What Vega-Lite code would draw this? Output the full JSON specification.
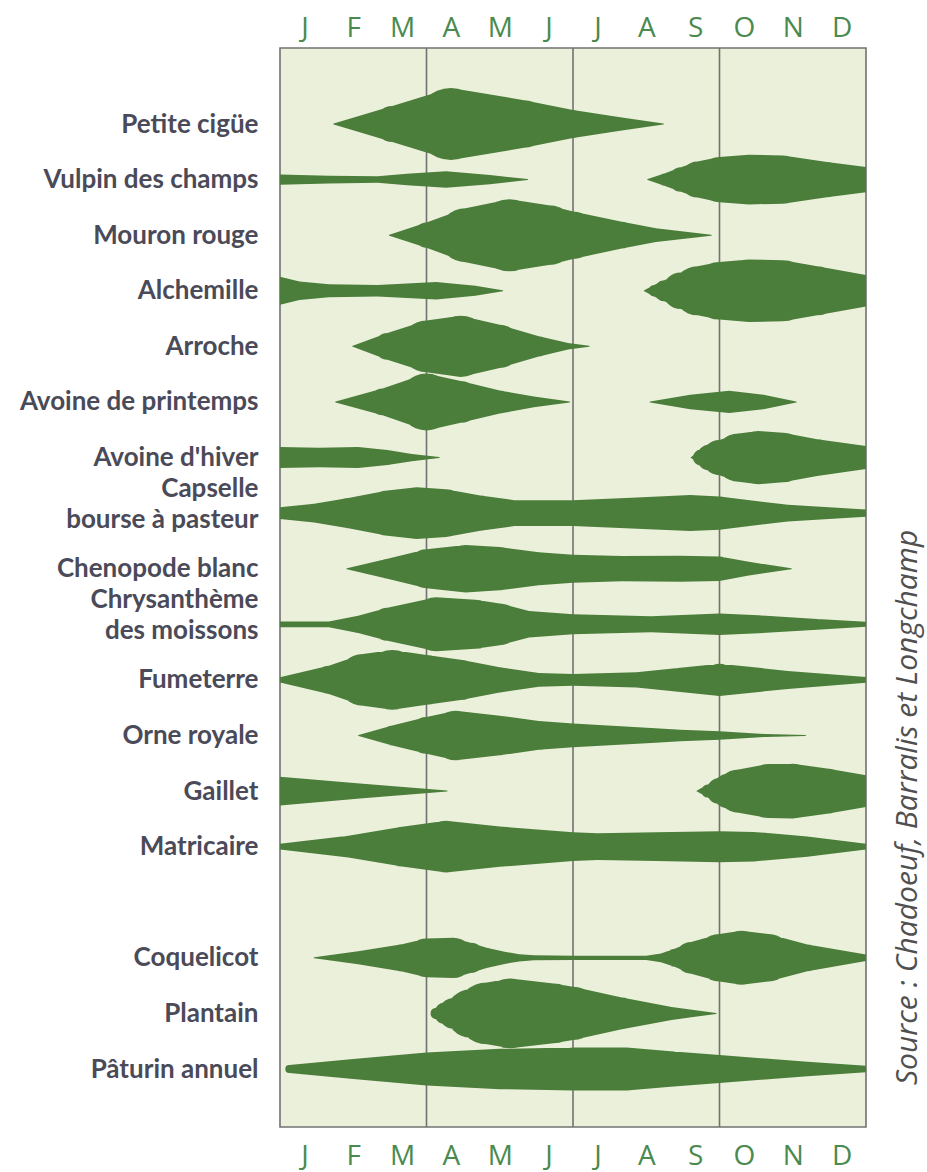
{
  "$schema": "https://vega.github.io/schema/vega-lite/v6.json",
  "width": 586,
  "height": 1079,
  "autosize": {"type": "none"},
  "padding": {"left": 280, "top": 48, "right": 61, "bottom": 45},
  "background": "white",
  "config": {
    "view": {"fill": "#ebf0da", "stroke": "#727272", "strokeWidth": 1.6}
  },
  "title": {
    "text": "Source : Chadoeuf, Barralis et Longchamp",
    "orient": "right",
    "anchor": "end",
    "angle": -90,
    "align": "left",
    "baseline": "top",
    "dx": 42,
    "offset": -3,
    "font": "Open Sans",
    "fontStyle": "italic",
    "fontWeight": "normal",
    "fontSize": 30,
    "color": "#505050",
    "frame": "group"
  },
  "datasets": {
    "grille": [{"m": 3}, {"m": 6}, {"m": 9}],
    "especes": [
      {"espece": "Petite cigüe", "partie": 1, "mois": 1.1, "densite": 0},
      {"espece": "Petite cigüe", "partie": 1, "mois": 2.3, "densite": 5.0},
      {"espece": "Petite cigüe", "partie": 1, "mois": 3.5, "densite": 10},
      {"espece": "Petite cigüe", "partie": 1, "mois": 5, "densite": 6.6},
      {"espece": "Petite cigüe", "partie": 1, "mois": 6, "densite": 3.9},
      {"espece": "Petite cigüe", "partie": 1, "mois": 7, "densite": 1.8},
      {"espece": "Petite cigüe", "partie": 1, "mois": 7.85, "densite": 0},

      {"espece": "Vulpin des champs", "partie": 1, "mois": 0, "densite": 1.4},
      {"espece": "Vulpin des champs", "partie": 1, "mois": 1, "densite": 1.1},
      {"espece": "Vulpin des champs", "partie": 1, "mois": 2, "densite": 0.9},
      {"espece": "Vulpin des champs", "partie": 1, "mois": 2.6, "densite": 1.6},
      {"espece": "Vulpin des champs", "partie": 1, "mois": 3.4, "densite": 2.3},
      {"espece": "Vulpin des champs", "partie": 1, "mois": 4.3, "densite": 1.3},
      {"espece": "Vulpin des champs", "partie": 1, "mois": 5.07, "densite": 0},
      {"espece": "Vulpin des champs", "partie": 2, "mois": 7.53, "densite": 0},
      {"espece": "Vulpin des champs", "partie": 2, "mois": 7.87, "densite": 1.7},
      {"espece": "Vulpin des champs", "partie": 2, "mois": 8.21, "densite": 3.4},
      {"espece": "Vulpin des champs", "partie": 2, "mois": 8.55, "densite": 5.0},
      {"espece": "Vulpin des champs", "partie": 2, "mois": 9.0, "densite": 6.3},
      {"espece": "Vulpin des champs", "partie": 2, "mois": 9.6, "densite": 6.9},
      {"espece": "Vulpin des champs", "partie": 2, "mois": 10.3, "densite": 6.7},
      {"espece": "Vulpin des champs", "partie": 2, "mois": 11.2, "densite": 4.9},
      {"espece": "Vulpin des champs", "partie": 2, "mois": 12, "densite": 3.5},

      {"espece": "Mouron rouge", "partie": 1, "mois": 2.24, "densite": 0},
      {"espece": "Mouron rouge", "partie": 1, "mois": 3, "densite": 3.5},
      {"espece": "Mouron rouge", "partie": 1, "mois": 3.8, "densite": 7.5},
      {"espece": "Mouron rouge", "partie": 1, "mois": 4.7, "densite": 10},
      {"espece": "Mouron rouge", "partie": 1, "mois": 5.5, "densite": 8.3},
      {"espece": "Mouron rouge", "partie": 1, "mois": 6, "densite": 6.6},
      {"espece": "Mouron rouge", "partie": 1, "mois": 7, "densite": 3.7},
      {"espece": "Mouron rouge", "partie": 1, "mois": 7.7, "densite": 1.9},
      {"espece": "Mouron rouge", "partie": 1, "mois": 8.83, "densite": 0},

      {"espece": "Alchemille", "partie": 1, "mois": 0, "densite": 3.9},
      {"espece": "Alchemille", "partie": 1, "mois": 0.4, "densite": 2.6},
      {"espece": "Alchemille", "partie": 1, "mois": 1, "densite": 1.8},
      {"espece": "Alchemille", "partie": 1, "mois": 2, "densite": 1.6},
      {"espece": "Alchemille", "partie": 1, "mois": 3.2, "densite": 2.4},
      {"espece": "Alchemille", "partie": 1, "mois": 4, "densite": 1.4},
      {"espece": "Alchemille", "partie": 1, "mois": 4.56, "densite": 0},
      {"espece": "Alchemille", "partie": 2, "mois": 7.46, "densite": 0},
      {"espece": "Alchemille", "partie": 2, "mois": 7.66, "densite": 1.6},
      {"espece": "Alchemille", "partie": 2, "mois": 7.87, "densite": 2.9},
      {"espece": "Alchemille", "partie": 2, "mois": 8.21, "densite": 5.1},
      {"espece": "Alchemille", "partie": 2, "mois": 8.55, "densite": 6.8},
      {"espece": "Alchemille", "partie": 2, "mois": 9.0, "densite": 8.0},
      {"espece": "Alchemille", "partie": 2, "mois": 9.6, "densite": 8.7},
      {"espece": "Alchemille", "partie": 2, "mois": 10.3, "densite": 8.5},
      {"espece": "Alchemille", "partie": 2, "mois": 11, "densite": 6.8},
      {"espece": "Alchemille", "partie": 2, "mois": 12, "densite": 4.4},

      {"espece": "Arroche", "partie": 1, "mois": 1.49, "densite": 0},
      {"espece": "Arroche", "partie": 1, "mois": 2.2, "densite": 3.7},
      {"espece": "Arroche", "partie": 1, "mois": 3, "densite": 7.2},
      {"espece": "Arroche", "partie": 1, "mois": 3.7, "densite": 8.5},
      {"espece": "Arroche", "partie": 1, "mois": 4.5, "densite": 6.0},
      {"espece": "Arroche", "partie": 1, "mois": 5.3, "densite": 2.8},
      {"espece": "Arroche", "partie": 1, "mois": 5.9, "densite": 0.9},
      {"espece": "Arroche", "partie": 1, "mois": 6.33, "densite": 0},

      {"espece": "Avoine de printemps", "partie": 1, "mois": 1.14, "densite": 0},
      {"espece": "Avoine de printemps", "partie": 1, "mois": 2.1, "densite": 3.7},
      {"espece": "Avoine de printemps", "partie": 1, "mois": 3, "densite": 7.9},
      {"espece": "Avoine de printemps", "partie": 1, "mois": 3.7, "densite": 5.8},
      {"espece": "Avoine de printemps", "partie": 1, "mois": 4.5, "densite": 3.2},
      {"espece": "Avoine de printemps", "partie": 1, "mois": 5.2, "densite": 1.5},
      {"espece": "Avoine de printemps", "partie": 1, "mois": 5.93, "densite": 0},
      {"espece": "Avoine de printemps", "partie": 2, "mois": 7.58, "densite": 0},
      {"espece": "Avoine de printemps", "partie": 2, "mois": 8.4, "densite": 2.0},
      {"espece": "Avoine de printemps", "partie": 2, "mois": 9.2, "densite": 3.1},
      {"espece": "Avoine de printemps", "partie": 2, "mois": 9.9, "densite": 2.0},
      {"espece": "Avoine de printemps", "partie": 2, "mois": 10.57, "densite": 0},

      {"espece": "Avoine d'hiver", "partie": 1, "mois": 0, "densite": 2.9},
      {"espece": "Avoine d'hiver", "partie": 1, "mois": 0.8, "densite": 2.7},
      {"espece": "Avoine d'hiver", "partie": 1, "mois": 1.6, "densite": 2.9},
      {"espece": "Avoine d'hiver", "partie": 1, "mois": 2.2, "densite": 2.1},
      {"espece": "Avoine d'hiver", "partie": 1, "mois": 2.7, "densite": 1.0},
      {"espece": "Avoine d'hiver", "partie": 1, "mois": 3.26, "densite": 0},
      {"espece": "Avoine d'hiver", "partie": 2, "mois": 8.42, "densite": 0},
      {"espece": "Avoine d'hiver", "partie": 2, "mois": 8.62, "densite": 2.2},
      {"espece": "Avoine d'hiver", "partie": 2, "mois": 8.8, "densite": 3.6},
      {"espece": "Avoine d'hiver", "partie": 2, "mois": 9.0, "densite": 4.9},
      {"espece": "Avoine d'hiver", "partie": 2, "mois": 9.39, "densite": 6.7},
      {"espece": "Avoine d'hiver", "partie": 2, "mois": 9.8, "densite": 7.4},
      {"espece": "Avoine d'hiver", "partie": 2, "mois": 10.3, "densite": 6.9},
      {"espece": "Avoine d'hiver", "partie": 2, "mois": 11, "densite": 5.1},
      {"espece": "Avoine d'hiver", "partie": 2, "mois": 12, "densite": 3.2},

      {"espece": "Capselle bourse à pasteur", "partie": 1, "mois": 0, "densite": 1.6},
      {"espece": "Capselle bourse à pasteur", "partie": 1, "mois": 0.7, "densite": 2.6},
      {"espece": "Capselle bourse à pasteur", "partie": 1, "mois": 1.4, "densite": 4.2},
      {"espece": "Capselle bourse à pasteur", "partie": 1, "mois": 2.2, "densite": 6.3},
      {"espece": "Capselle bourse à pasteur", "partie": 1, "mois": 2.8, "densite": 7.2},
      {"espece": "Capselle bourse à pasteur", "partie": 1, "mois": 3.4, "densite": 6.6},
      {"espece": "Capselle bourse à pasteur", "partie": 1, "mois": 4.1, "densite": 4.9},
      {"espece": "Capselle bourse à pasteur", "partie": 1, "mois": 4.8, "densite": 3.6},
      {"espece": "Capselle bourse à pasteur", "partie": 1, "mois": 6, "densite": 3.6},
      {"espece": "Capselle bourse à pasteur", "partie": 1, "mois": 7.2, "densite": 4.3},
      {"espece": "Capselle bourse à pasteur", "partie": 1, "mois": 8.4, "densite": 5.0},
      {"espece": "Capselle bourse à pasteur", "partie": 1, "mois": 9, "densite": 4.6},
      {"espece": "Capselle bourse à pasteur", "partie": 1, "mois": 10.4, "densite": 2.3},
      {"espece": "Capselle bourse à pasteur", "partie": 1, "mois": 12, "densite": 1.0},

      {"espece": "Chenopode blanc", "partie": 1, "mois": 1.37, "densite": 0},
      {"espece": "Chenopode blanc", "partie": 1, "mois": 2.2, "densite": 2.8},
      {"espece": "Chenopode blanc", "partie": 1, "mois": 3, "densite": 5.4},
      {"espece": "Chenopode blanc", "partie": 1, "mois": 3.8, "densite": 6.6},
      {"espece": "Chenopode blanc", "partie": 1, "mois": 4.5, "densite": 6.0},
      {"espece": "Chenopode blanc", "partie": 1, "mois": 5.3, "densite": 4.6},
      {"espece": "Chenopode blanc", "partie": 1, "mois": 6, "densite": 3.9},
      {"espece": "Chenopode blanc", "partie": 1, "mois": 7, "densite": 3.5},
      {"espece": "Chenopode blanc", "partie": 1, "mois": 8.2, "densite": 3.6},
      {"espece": "Chenopode blanc", "partie": 1, "mois": 9, "densite": 3.4},
      {"espece": "Chenopode blanc", "partie": 1, "mois": 9.6, "densite": 1.9},
      {"espece": "Chenopode blanc", "partie": 1, "mois": 10.47, "densite": 0},

      {"espece": "Chrysanthème des moissons", "partie": 1, "mois": 0, "densite": 0.8},
      {"espece": "Chrysanthème des moissons", "partie": 1, "mois": 1, "densite": 0.8},
      {"espece": "Chrysanthème des moissons", "partie": 1, "mois": 1.6, "densite": 2.4},
      {"espece": "Chrysanthème des moissons", "partie": 1, "mois": 2.2, "densite": 4.6},
      {"espece": "Chrysanthème des moissons", "partie": 1, "mois": 3.2, "densite": 7.5},
      {"espece": "Chrysanthème des moissons", "partie": 1, "mois": 4.0, "densite": 6.8},
      {"espece": "Chrysanthème des moissons", "partie": 1, "mois": 4.5, "densite": 5.8},
      {"espece": "Chrysanthème des moissons", "partie": 1, "mois": 5.1, "densite": 3.7},
      {"espece": "Chrysanthème des moissons", "partie": 1, "mois": 6, "densite": 2.8},
      {"espece": "Chrysanthème des moissons", "partie": 1, "mois": 7.6, "densite": 2.2},
      {"espece": "Chrysanthème des moissons", "partie": 1, "mois": 9, "densite": 3.0},
      {"espece": "Chrysanthème des moissons", "partie": 1, "mois": 9.8, "densite": 2.5},
      {"espece": "Chrysanthème des moissons", "partie": 1, "mois": 11, "densite": 1.5},
      {"espece": "Chrysanthème des moissons", "partie": 1, "mois": 12, "densite": 0.7},

      {"espece": "Fumeterre", "partie": 1, "mois": 0, "densite": 0.7},
      {"espece": "Fumeterre", "partie": 1, "mois": 1, "densite": 3.9},
      {"espece": "Fumeterre", "partie": 1, "mois": 1.7, "densite": 7.2},
      {"espece": "Fumeterre", "partie": 1, "mois": 2.3, "densite": 8.3},
      {"espece": "Fumeterre", "partie": 1, "mois": 3, "densite": 6.9},
      {"espece": "Fumeterre", "partie": 1, "mois": 3.7, "densite": 5.6},
      {"espece": "Fumeterre", "partie": 1, "mois": 4.5, "densite": 3.5},
      {"espece": "Fumeterre", "partie": 1, "mois": 5.3, "densite": 1.9},
      {"espece": "Fumeterre", "partie": 1, "mois": 6, "densite": 1.6},
      {"espece": "Fumeterre", "partie": 1, "mois": 7.3, "densite": 2.1},
      {"espece": "Fumeterre", "partie": 1, "mois": 8.2, "densite": 3.4},
      {"espece": "Fumeterre", "partie": 1, "mois": 9, "densite": 4.5},
      {"espece": "Fumeterre", "partie": 1, "mois": 10.4, "densite": 2.5},
      {"espece": "Fumeterre", "partie": 1, "mois": 12, "densite": 0.8},

      {"espece": "Orne royale", "partie": 1, "mois": 1.61, "densite": 0},
      {"espece": "Orne royale", "partie": 1, "mois": 2.3, "densite": 2.8},
      {"espece": "Orne royale", "partie": 1, "mois": 3, "densite": 5.1},
      {"espece": "Orne royale", "partie": 1, "mois": 3.6, "densite": 6.9},
      {"espece": "Orne royale", "partie": 1, "mois": 4.5, "densite": 5.5},
      {"espece": "Orne royale", "partie": 1, "mois": 5.3, "densite": 4.0},
      {"espece": "Orne royale", "partie": 1, "mois": 6, "densite": 3.3},
      {"espece": "Orne royale", "partie": 1, "mois": 7.6, "densite": 2.1},
      {"espece": "Orne royale", "partie": 1, "mois": 8.2, "densite": 1.6},
      {"espece": "Orne royale", "partie": 1, "mois": 9, "densite": 1.2},
      {"espece": "Orne royale", "partie": 1, "mois": 9.94, "densite": 0.4},
      {"espece": "Orne royale", "partie": 1, "mois": 10.76, "densite": 0},

      {"espece": "Gaillet", "partie": 1, "mois": 0, "densite": 4.0},
      {"espece": "Gaillet", "partie": 1, "mois": 1.7, "densite": 2.0},
      {"espece": "Gaillet", "partie": 1, "mois": 3.42, "densite": 0},
      {"espece": "Gaillet", "partie": 2, "mois": 8.54, "densite": 0},
      {"espece": "Gaillet", "partie": 2, "mois": 8.76, "densite": 1.8},
      {"espece": "Gaillet", "partie": 2, "mois": 9.0, "densite": 3.6},
      {"espece": "Gaillet", "partie": 2, "mois": 9.2, "densite": 4.9},
      {"espece": "Gaillet", "partie": 2, "mois": 9.39, "densite": 6.0},
      {"espece": "Gaillet", "partie": 2, "mois": 10.0, "densite": 7.5},
      {"espece": "Gaillet", "partie": 2, "mois": 10.5, "densite": 7.6},
      {"espece": "Gaillet", "partie": 2, "mois": 11.2, "densite": 6.3},
      {"espece": "Gaillet", "partie": 2, "mois": 12, "densite": 4.4},

      {"espece": "Matricaire", "partie": 1, "mois": 0, "densite": 0.8},
      {"espece": "Matricaire", "partie": 1, "mois": 1.4, "densite": 3.0},
      {"espece": "Matricaire", "partie": 1, "mois": 2.5, "densite": 5.5},
      {"espece": "Matricaire", "partie": 1, "mois": 3.4, "densite": 7.2},
      {"espece": "Matricaire", "partie": 1, "mois": 4.5, "densite": 5.6},
      {"espece": "Matricaire", "partie": 1, "mois": 6, "densite": 4.0},
      {"espece": "Matricaire", "partie": 1, "mois": 6.5, "densite": 3.7},
      {"espece": "Matricaire", "partie": 1, "mois": 7.7, "densite": 4.0},
      {"espece": "Matricaire", "partie": 1, "mois": 9, "densite": 4.3},
      {"espece": "Matricaire", "partie": 1, "mois": 9.7, "densite": 4.1},
      {"espece": "Matricaire", "partie": 1, "mois": 10.8, "densite": 2.8},
      {"espece": "Matricaire", "partie": 1, "mois": 12, "densite": 0.8},

      {"espece": "Coquelicot", "partie": 1, "mois": 0.7, "densite": 0},
      {"espece": "Coquelicot", "partie": 1, "mois": 1.6, "densite": 1.8},
      {"espece": "Coquelicot", "partie": 1, "mois": 2.5, "densite": 3.8},
      {"espece": "Coquelicot", "partie": 1, "mois": 3.0, "densite": 5.4},
      {"espece": "Coquelicot", "partie": 1, "mois": 3.55, "densite": 5.6},
      {"espece": "Coquelicot", "partie": 1, "mois": 3.9, "densite": 4.2},
      {"espece": "Coquelicot", "partie": 1, "mois": 4.23, "densite": 2.8},
      {"espece": "Coquelicot", "partie": 1, "mois": 4.6, "densite": 1.7},
      {"espece": "Coquelicot", "partie": 1, "mois": 4.9, "densite": 1.0},
      {"espece": "Coquelicot", "partie": 1, "mois": 5.2, "densite": 0.7},
      {"espece": "Coquelicot", "partie": 1, "mois": 6, "densite": 0.6},
      {"espece": "Coquelicot", "partie": 1, "mois": 7.5, "densite": 0.6},
      {"espece": "Coquelicot", "partie": 1, "mois": 7.8, "densite": 1.2},
      {"espece": "Coquelicot", "partie": 1, "mois": 8.08, "densite": 2.5},
      {"espece": "Coquelicot", "partie": 1, "mois": 8.42, "densite": 4.4},
      {"espece": "Coquelicot", "partie": 1, "mois": 9.0, "densite": 6.6},
      {"espece": "Coquelicot", "partie": 1, "mois": 9.45, "densite": 7.5},
      {"espece": "Coquelicot", "partie": 1, "mois": 10, "densite": 6.6},
      {"espece": "Coquelicot", "partie": 1, "mois": 10.8, "densite": 3.7},
      {"espece": "Coquelicot", "partie": 1, "mois": 12, "densite": 0.9},

      {"espece": "Plantain", "partie": 1, "mois": 3.2, "densite": 1.6},
      {"espece": "Plantain", "partie": 1, "mois": 3.38, "densite": 3.0},
      {"espece": "Plantain", "partie": 1, "mois": 3.56, "densite": 4.3},
      {"espece": "Plantain", "partie": 1, "mois": 3.9, "densite": 6.7},
      {"espece": "Plantain", "partie": 1, "mois": 4.24, "densite": 8.6},
      {"espece": "Plantain", "partie": 1, "mois": 4.72, "densite": 9.7},
      {"espece": "Plantain", "partie": 1, "mois": 5.6, "densite": 8.3},
      {"espece": "Plantain", "partie": 1, "mois": 6, "densite": 7.4},
      {"espece": "Plantain", "partie": 1, "mois": 7.0, "densite": 4.4},
      {"espece": "Plantain", "partie": 1, "mois": 8.02, "densite": 1.8},
      {"espece": "Plantain", "partie": 1, "mois": 8.93, "densite": 0},

      {"espece": "Pâturin annuel", "partie": 1, "mois": 0.19, "densite": 1.1},
      {"espece": "Pâturin annuel", "partie": 1, "mois": 1.5, "densite": 2.8},
      {"espece": "Pâturin annuel", "partie": 1, "mois": 3, "densite": 4.6},
      {"espece": "Pâturin annuel", "partie": 1, "mois": 4.5, "densite": 5.6},
      {"espece": "Pâturin annuel", "partie": 1, "mois": 6, "densite": 6.0},
      {"espece": "Pâturin annuel", "partie": 1, "mois": 7.1, "densite": 6.0},
      {"espece": "Pâturin annuel", "partie": 1, "mois": 8, "densite": 4.9},
      {"espece": "Pâturin annuel", "partie": 1, "mois": 9, "densite": 3.9},
      {"espece": "Pâturin annuel", "partie": 1, "mois": 10.8, "densite": 2.0},
      {"espece": "Pâturin annuel", "partie": 1, "mois": 12, "densite": 0.9}
    ]
  },
  "layer": [
    {
      "data": {"name": "grille"},
      "mark": {"type": "rule", "color": "#727272", "strokeWidth": 1.6},
      "encoding": {
        "x": {
          "field": "m",
          "type": "quantitative",
          "scale": {"domain": [0, 12], "nice": false, "zero": false},
          "axis": {
            "orient": "top",
            "title": null,
            "values": [0.5, 1.5, 2.5, 3.5, 4.5, 5.5, 6.5, 7.5, 8.5, 9.5, 10.5, 11.5],
            "labelExpr": "['J','F','M','A','M','J','J','A','S','O','N','D'][floor(datum.value)]",
            "ticks": false,
            "domain": false,
            "grid": false,
            "labelFlush": false,
            "labelOverlap": false,
            "labelPadding": 6,
            "labelFont": "Open Sans",
            "labelFontSize": 28,
            "labelColor": "#4b8a4f"
          }
        }
      }
    },
    {
      "data": {"name": "especes"},
      "mark": {"type": "trail", "clip": true, "color": "#4b7d3b"},
      "encoding": {
        "x": {
          "field": "mois",
          "type": "quantitative",
          "scale": {"domain": [0, 12], "nice": false, "zero": false},
          "axis": {
            "orient": "bottom",
            "title": null,
            "values": [0.5, 1.5, 2.5, 3.5, 4.5, 5.5, 6.5, 7.5, 8.5, 9.5, 10.5, 11.5],
            "labelExpr": "['J','F','M','A','M','J','J','A','S','O','N','D'][floor(datum.value)]",
            "ticks": false,
            "domain": false,
            "grid": false,
            "labelFlush": false,
            "labelOverlap": false,
            "labelPadding": 15,
            "labelFont": "Open Sans",
            "labelFontSize": 28,
            "labelColor": "#4b8a4f"
          }
        },
        "y": {
          "field": "espece",
          "type": "nominal",
          "scale": {
            "type": "point",
            "domain": ["Petite cigüe", "Vulpin des champs", "Mouron rouge", "Alchemille", "Arroche", "Avoine de printemps", "Avoine d'hiver", "Capselle bourse à pasteur", "Chenopode blanc", "Chrysanthème des moissons", "Fumeterre", "Orne royale", "Gaillet", "Matricaire", " ", "Coquelicot", "Plantain", "Pâturin annuel"],
            "range": [76, 1021],
            "padding": 0
          },
          "axis": {
            "title": null,
            "ticks": false,
            "domain": false,
            "grid": false,
            "labelPadding": 22,
            "labelLimit": 400,
            "labelFont": "Lato",
            "labelFontWeight": "bold",
            "labelFontSize": 26,
            "labelLineHeight": 31,
            "labelColor": "#4a4a58",
            "labelOffset": {
              "condition": {
                "test": "datum.value == 'Capselle bourse à pasteur' || datum.value == 'Chrysanthème des moissons'",
                "value": -25
              },
              "value": 0
            },
            "labelExpr": "datum.value == 'Capselle bourse à pasteur' ? ['Capselle', 'bourse à pasteur'] : datum.value == 'Chrysanthème des moissons' ? ['Chrysanthème', 'des moissons'] : datum.label"
          }
        },
        "size": {
          "field": "densite",
          "type": "quantitative",
          "scale": {"domain": [0, 10], "range": [0, 72]},
          "legend": null
        },
        "detail": [
          {"field": "espece", "type": "nominal"},
          {"field": "partie", "type": "nominal"}
        ],
        "order": {"field": "mois", "type": "quantitative"}
      }
    }
  ],
  "resolve": {"axis": {"x": "independent"}}
}
